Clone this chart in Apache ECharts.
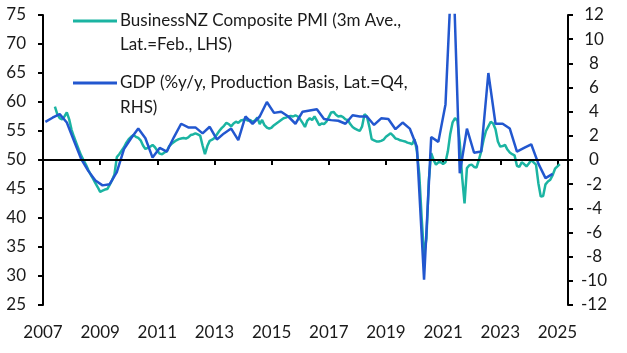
<!DOCTYPE html>
<html>
<head>
<meta charset="utf-8">
<title>NZ PMI vs GDP</title>
<script src="https://cdn.jsdelivr.net/npm/echarts@6/dist/echarts.min.js"></script>
<style>
html, body { margin: 0; padding: 0; background: #fff; }
#chart { width: 627px; height: 353px; }
</style>
</head>
<body>
<div id="chart"></div>
<script>
// BusinessNZ composite PMI (3m ave), monthly, first value = Jun 2007 (LHS)
var pmiStartYear = 2007, pmiStartMonth = 6;
var pmiValues = [
    59.2, 57.9, 57.2, 57.0, 57.5, 58.2, 57.0,                          // 2007
    55.2, 54.0, 52.9, 51.8, 50.8, 50.0, 49.2, 48.3, 47.5, 46.8, 46.0, 45.3, // 2008
    44.5, 44.7, 44.9, 45.0, 45.7, 46.5, 47.5, 50.5, 51.0, 51.6, 52.2, 53.0, // 2009
    53.6, 54.0, 54.3, 54.0, 53.8, 53.4, 52.5, 51.9, 52.1, 52.3, 52.6, 52.2, // 2010
    51.6, 51.1, 51.0, 51.3, 51.5, 52.4, 52.8, 53.1, 53.4, 53.6, 53.7, 53.8, // 2011
    53.7, 53.9, 54.3, 54.4, 54.6, 54.4, 54.2, 52.5, 51.0, 52.4, 53.3, 53.5, // 2012
    53.8, 54.4, 55.0, 55.5, 55.9, 56.4, 56.2, 55.8, 56.3, 56.6, 56.4, 56.8, // 2013
    56.9, 57.0, 56.8, 56.9, 56.6, 56.8, 57.3, 56.2, 56.9, 56.0, 55.6, 55.4, // 2014
    55.6, 56.0, 56.3, 56.6, 56.9, 57.2, 57.3, 57.5, 57.6, 57.5, 57.7, 57.5, // 2015
    57.0, 56.4, 55.7, 56.8, 57.2, 56.9, 57.5, 56.8, 56.0, 56.3, 56.2, 56.6, // 2016
    57.4, 58.2, 58.3, 57.8, 57.5, 57.6, 57.4, 57.0, 56.9, 56.2, 55.7, 55.4, // 2017
    55.2, 55.0, 55.8, 57.9, 57.5, 55.8, 53.6, 53.4, 53.2, 53.2, 53.3, 53.5, // 2018
    54.0, 54.3, 54.6, 54.2, 53.7, 53.6, 53.4, 53.3, 53.2, 53.0, 52.9, 52.7, // 2019
    53.6, 51.5, 47.5, 40.0, 33.5, 36.5, 46.5, 51.2, 50.0, 49.2, 49.6, 49.6, // 2020
    49.3, 49.6, 51.5, 54.5, 56.5, 57.2, 56.8, 53.0, 47.0, 42.5, 48.6, 49.1, // 2021
    49.2, 48.8, 48.7, 50.0, 51.5, 53.5, 55.0, 55.8, 56.6, 56.3, 55.3, 53.2, // 2022
    52.3, 52.4, 52.6, 51.8, 51.3, 51.0, 50.8, 49.0, 48.8, 49.6, 49.3, 48.9, // 2023
    49.4, 50.0, 49.6, 49.2, 46.0, 43.7, 43.8, 45.8, 46.3, 46.6, 47.4, 48.5, // 2024
    48.9, 49.3                                                          // 2025
];

// GDP %y/y (production basis), quarterly, first value = 2007Q1 (RHS)
var gdpStartYear = 2007;
var gdpValues = [
    3.15, 3.5, 3.8, 3.1,    // 2007
    1.6, 0.1, -0.9, -1.7,   // 2008
    -2.1, -2.0, -1.0, 0.9,  // 2009
    1.8, 2.6, 1.8, 0.2,     // 2010
    1.0, 0.7, 1.9, 3.0,     // 2011
    2.7, 2.7, 2.2, 2.75,    // 2012
    1.7, 2.2, 2.6, 1.65,    // 2013
    3.6, 3.0, 3.6, 4.8,     // 2014
    3.9, 4.0, 3.6, 3.0,     // 2015
    4.0, 4.1, 4.2, 3.4,     // 2016
    3.3, 3.25, 3.0, 3.7,    // 2017
    3.6, 3.6, 2.9, 3.45,    // 2018
    3.4, 2.55, 3.1, 2.6,    // 2019
    1.1, -9.9, 1.9, 1.5,    // 2020
    4.6, 17.5, -1.1, 2.6,   // 2021
    0.6, 0.7, 7.2, 3.0,     // 2022
    3.0, 2.6, 0.7, 1.0,     // 2023
    1.3, -0.3, -1.5, -1.15  // 2024
];

var pmiName = ['BusinessNZ Composite PMI (3m Ave.,', 'Lat.=Feb., LHS)'];
var gdpName = ['GDP (%y/y, Production Basis, Lat.=Q4,', 'RHS)'];

// axis ranges [min, max, step]
var xRange = [2007, 2025.37, 2];
var leftRange = [25, 75, 5];
var rightRange = [-12, 12, 2];

var teal = '#1bb4a2';
var blue = '#2257cf';
var ink = '#1a1a1a';
var font = 'Lato';

// monthly points at the 1st of the month, quarters at the middle month
var pmiData = pmiValues.map(function (v, i) {
    return [pmiStartYear + (pmiStartMonth - 1 + i) / 12, v];
});
var gdpData = gdpValues.map(function (v, i) {
    return [gdpStartYear + i / 4 + 1 / 12, v];
});

var axisLine = { show: true, lineStyle: { color: '#000', width: 2 } };
var axisTick = { show: true, inside: false, length: 5, lineStyle: { color: '#000', width: 2 } };

var myChart = echarts.init(document.getElementById('chart'));
var option = {
    animation: false,
    grid: { left: 43, right: 59, top: 15, bottom: 48, outerBoundsMode: 'none' },
    xAxis: {
        type: 'value',
        min: xRange[0],
        max: xRange[1],
        interval: xRange[2],
        axisLine: axisLine,
        axisTick: axisTick,
        splitLine: { show: false },
        axisLabel: {
            color: ink, fontSize: 17, fontFamily: font, margin: 19,
            showMaxLabel: false,
            formatter: function (v) { return v % 1 === 0 ? String(v) : ''; }
        }
    },
    yAxis: [{
        type: 'value',
        position: 'left',
        min: leftRange[0],
        max: leftRange[1],
        interval: leftRange[2],
        axisLine: axisLine,
        axisTick: axisTick,
        splitLine: { show: false },
        axisLabel: { color: ink, fontSize: 17, fontFamily: font, margin: 17 }
    }, {
        type: 'value',
        position: 'right',
        min: rightRange[0],
        max: rightRange[1],
        interval: rightRange[2],
        axisLine: axisLine,
        axisTick: axisTick,
        splitLine: { show: false },
        axisLabel: { color: ink, fontSize: 17, fontFamily: font, margin: 26, align: 'center' }
    }],
    series: [{
        name: pmiName.join(' '),
        type: 'line',
        yAxisIndex: 0,
        data: pmiData,
        showSymbol: false,
        lineStyle: { color: teal, width: 2.5 },
        emphasis: { disabled: true },
        z: 2,
        markLine: {
            silent: true,
            symbol: ['none', 'none'],
            label: { show: false },
            lineStyle: { color: '#000', width: 2, type: 'solid' },
            data: [{ yAxis: 50 }]
        }
    }, {
        name: gdpName.join(' '),
        type: 'line',
        yAxisIndex: 1,
        data: gdpData,
        showSymbol: false,
        lineStyle: { color: blue, width: 2.5 },
        emphasis: { disabled: true },
        z: 3
    }],
    // legend drawn by hand: two-line labels with the key on the first line
    graphic: [
        { type: 'line', shape: { x1: 73, y1: 21, x2: 117, y2: 21 }, style: { stroke: teal, lineWidth: 3 } },
        { type: 'text', x: 120, y: 21, style: { text: pmiName[0], font: '17px ' + font, fill: ink, verticalAlign: 'middle' } },
        { type: 'text', x: 120, y: 45, style: { text: pmiName[1], font: '17px ' + font, fill: ink, verticalAlign: 'middle' } },
        { type: 'line', shape: { x1: 73, y1: 83, x2: 117, y2: 83 }, style: { stroke: blue, lineWidth: 3 } },
        { type: 'text', x: 120, y: 83, style: { text: gdpName[0], font: '17px ' + font, fill: ink, verticalAlign: 'middle' } },
        { type: 'text', x: 120, y: 108, style: { text: gdpName[1], font: '17px ' + font, fill: ink, verticalAlign: 'middle' } }
    ]
};
myChart.setOption(option);
</script>
</body>
</html>
